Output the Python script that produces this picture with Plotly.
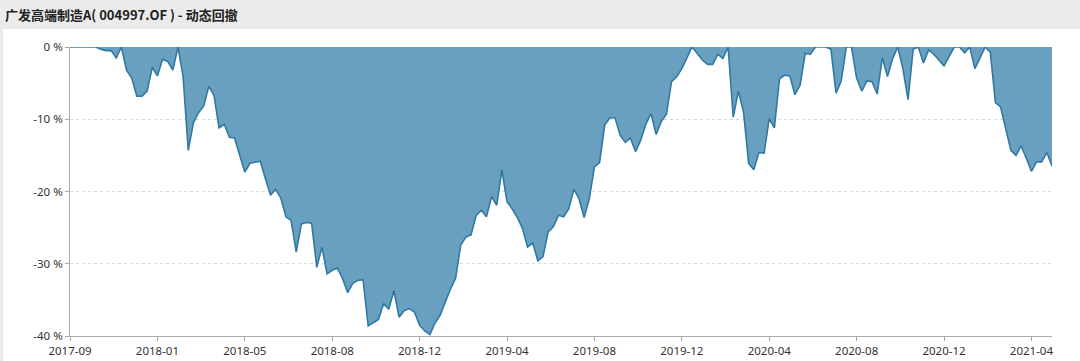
import plotly.graph_objects as go

title_text = "广发高端制造A( 004997.OF ) - 动态回撤"

tick_labels = ["2017-09", "2018-01", "2018-05", "2018-08", "2018-12", "2019-04",
               "2019-08", "2019-12", "2020-04", "2020-08", "2020-12", "2021-04"]
label_step = 17

y_ticks = [0, -10, -20, -30, -40]
y_tick_labels = ["0 %", "-10 %", "-20 %", "-30 %", "-40 %"]

drawdown = [
    0, 0, 0, 0, 0, 0, -0.3, -0.5, -0.5, -1.5,
    0, -3.2, -4.3, -6.8, -6.8, -6.1, -2.8, -4.0, -1.7, -2.0,
    -3.2, 0, -4.1, -14.3, -10.5, -9.1, -8.2, -5.4, -6.7, -11.2,
    -10.7, -12.5, -12.6, -14.8, -17.3, -16.1, -16.0, -15.8, -18.2, -20.5,
    -19.7, -20.9, -23.5, -24.0, -28.4, -24.5, -24.3, -24.4, -30.5, -27.7,
    -31.4, -30.9, -30.6, -32.0, -34.0, -32.7, -32.3, -32.2, -38.6, -38.2,
    -37.7, -35.5, -36.3, -33.7, -37.4, -36.5, -36.2, -36.7, -38.5, -39.3,
    -39.8, -38.2, -37.1, -35.3, -33.5, -32.0, -27.4, -26.3, -26.0, -23.3,
    -22.6, -23.5, -20.7, -21.9, -17.0, -21.4, -22.4, -23.6, -25.1, -27.7,
    -27.1, -29.6, -29.0, -25.6, -24.9, -23.3, -23.5, -22.4, -19.7, -21.0,
    -23.6, -21.0, -16.6, -16.0, -10.8, -9.8, -9.8, -12.2, -13.2, -12.6,
    -14.5, -12.9, -10.7, -9.2, -12.1, -10.3, -9.3, -4.8, -4.1, -3.0,
    -1.6, 0, -0.9, -1.8, -2.4, -2.4, -1.0, -1.6, 0, -9.7,
    -6.1, -9.0, -16.1, -17.0, -14.6, -14.7, -9.9, -11.2, -4.4, -3.9,
    -4.0, -6.6, -5.3, -0.9, -1.0, 0, 0, 0, -0.3, -6.4,
    -4.7, 0, 0, -4.3, -6.1, -4.7, -4.8, -6.5, -1.5, -4.1,
    -1.6, 0, -3.0, -7.3, -0.3, 0, -2.2, -0.4, -1.0, -1.8,
    -2.6, -1.3, 0, 0, -0.8, 0, -3.0, -1.5, 0, -0.7,
    -7.7, -8.3, -11.3, -14.3, -15.0, -13.7, -15.4, -17.2, -15.9, -15.9,
    -14.6, -16.5,
]

idx = list(range(len(drawdown)))
tick_vals = [i * label_step for i in range(len(tick_labels))]

fig = go.Figure()
fig.add_trace(go.Scatter(
    x=idx, y=drawdown, mode="lines", fill="tozeroy",
    line=dict(color="#2f79a3", width=1.6),
    fillcolor="rgba(92,152,187,0.92)",
    hoverinfo="skip", showlegend=False,
))

# white panel behind the chart
fig.add_shape(type="rect", xref="paper", yref="paper",
              x0=-0.0682, x1=1.05, y0=-0.3, y1=1.0623,
              fillcolor="white", line=dict(width=0), layer="below")

fig.add_annotation(text="<b>" + title_text + "</b>", xref="paper", yref="paper",
                   x=-0.0682, y=1.0623, xanchor="left", yanchor="bottom",
                   yshift=3, showarrow=False,
                   font=dict(family="Noto Sans CJK SC", size=13, color="#222"))

fig.update_layout(
    width=1080, height=361,
    margin=dict(l=70, r=28, t=47, b=25, autoexpand=False),
    paper_bgcolor="#ebebeb",
    plot_bgcolor="white",
    font=dict(family="Noto Sans", size=11.5, color="#333"),
)

fig.update_xaxes(
    range=[0, len(drawdown) - 1], tickvals=tick_vals, ticktext=tick_labels,
    showgrid=False, zeroline=False, showline=True, linecolor="#aaaaaa",
    ticks="outside", ticklen=4, tickcolor="#aaaaaa", automargin=False,
)
fig.update_yaxes(
    range=[-40, 0], tickvals=y_ticks, ticktext=y_tick_labels,
    showgrid=True, gridcolor="#d9d9d9", griddash="dot", gridwidth=1,
    zeroline=False, showline=True, linecolor="#aaaaaa",
    ticks="outside", ticklen=4, tickcolor="#aaaaaa", automargin=False,
)

fig.write_html("out.html")
